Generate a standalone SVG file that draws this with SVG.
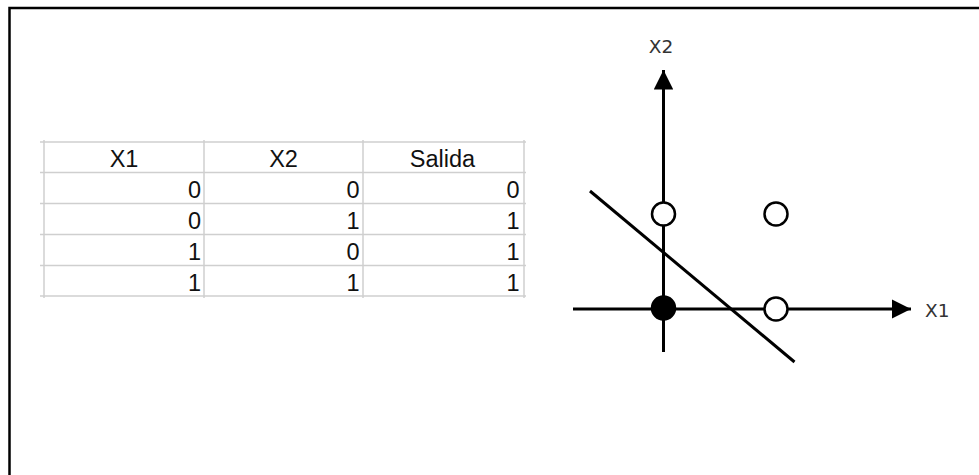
<svg xmlns="http://www.w3.org/2000/svg" width="979" height="475" viewBox="0 0 979 475">
<defs>
<style>
.grid{stroke:#cfcfcf;stroke-width:1.5;fill:none}
.cell{font-family:"Liberation Sans",Arial,sans-serif;font-size:23.5px;fill:#111}
.num{text-anchor:end}
.hdr{text-anchor:middle}
.ax{stroke:#000;stroke-width:3;fill:none}
.lbl{font-family:"DejaVu Sans",sans-serif;font-size:18.5px;fill:#333}
.open{fill:#fff;stroke:#000;stroke-width:2.5}
.fill{fill:#000;stroke:#000;stroke-width:2.5}
</style>
<marker id="ah" viewBox="0 0 10 10" refX="10" refY="5" markerWidth="6.5" markerHeight="6.5" markerUnits="strokeWidth" orient="auto">
<path d="M0,0 L10,5 L0,10 Z" fill="#000"/>
</marker>
</defs>
<rect width="979" height="475" fill="#fff"/>
<path d="M9.5,475 V8 H979" fill="none" stroke="#000" stroke-width="2.5"/>

<g id="table">
<g class="grid">
<path d="M40,142 H526 M40,172.5 H526 M40,203.5 H526 M40,234.5 H526 M40,265.5 H526 M40,296 H526"/>
<path d="M44,140 V298 M204,140 V298 M363,140 V298 M524,140 V298"/>
</g>
<text class="cell hdr" x="124" y="166.5">X1</text>
<text class="cell hdr" x="283.5" y="166.5">X2</text>
<text class="cell hdr" x="442.5" y="166.5">Salida</text>
<g class="cell num">
<text x="201" y="198.3">0</text><text x="359.5" y="198.3">0</text><text x="519.5" y="198.3">0</text>
<text x="201" y="229.3">0</text><text x="359.5" y="229.3">1</text><text x="519.5" y="229.3">1</text>
<text x="201" y="260">1</text><text x="359.5" y="260">0</text><text x="519.5" y="260">1</text>
<text x="201" y="290.7">1</text><text x="359.5" y="290.7">1</text><text x="519.5" y="290.7">1</text>
</g>
</g>

<g id="connectors">
<line class="ax" x1="663.5" y1="352" x2="663.5" y2="70" marker-end="url(#ah)"/>
<line class="ax" x1="573" y1="309" x2="911" y2="309" marker-end="url(#ah)"/>
<line class="ax" x1="590" y1="191" x2="794.5" y2="362" stroke-width="2.5"/>
</g>

<g id="label-x2"><text class="lbl" x="661" y="53" text-anchor="middle">X2</text></g>
<g id="label-x1"><text class="lbl" x="925" y="316.5">X1</text></g>

<g id="p01"><circle class="open" cx="663.5" cy="214" r="11.5"/></g>
<g id="p11"><circle class="open" cx="776" cy="214" r="11.5"/></g>
<g id="p00"><circle class="fill" cx="663.5" cy="308" r="11.5"/></g>
<g id="p10"><circle class="open" cx="776" cy="309" r="11.5"/></g>
</svg>
